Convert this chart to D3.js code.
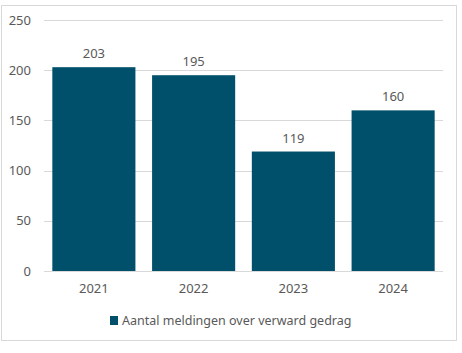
<!DOCTYPE html>
<meta charset="utf-8">
<style>
  body { margin: 0; background: #fff; }
  text { font-family: "Noto Sans", "Open Sans", sans-serif; fill: #595959; }
</style>
<script src="https://d3js.org/d3.v7.min.js"></script>
<div id="chart"></div>
<script>
// data
var years = ["2021", "2022", "2023", "2024"];
var meldingen = [203, 195, 119, 160];
var yTicks = [0, 50, 100, 150, 200, 250];
var seriesName = "Aantal meldingen over verward gedrag";

var W = 462, H = 353;
var margin = {top: 20, right: 19, bottom: 82, left: 44};
var width = W - margin.left - margin.right,
    height = H - margin.top - margin.bottom;

var svg = d3.select("#chart").append("svg")
    .attr("width", W)
    .attr("height", H);

// outer frame
svg.append("rect")
    .attr("x", 1.5).attr("y", 5.5)
    .attr("width", 455).attr("height", 335)
    .attr("fill", "none")
    .attr("stroke", "#d9d9d9");

var g = svg.append("g")
    .attr("transform", "translate(" + margin.left + "," + margin.top + ")");

var x = d3.scaleBand()
    .domain(years)
    .range([0, width])
    .paddingInner(0.167)
    .paddingOuter(0.0835);

var y = d3.scaleLinear()
    .domain([0, 250])
    .range([height, 0]);

// gridlines
g.selectAll("line.grid")
    .data(yTicks)
    .enter().append("line")
    .attr("class", "grid")
    .attr("x1", 0).attr("x2", width)
    .attr("y1", function(d) { return Math.round(y(d)) + 0.5; })
    .attr("y2", function(d) { return Math.round(y(d)) + 0.5; })
    .attr("stroke", "#d9d9d9")
    .attr("stroke-width", 1);

// y axis labels
var yAxis = g.append("g")
    .call(d3.axisLeft(y).tickValues(yTicks).tickSize(0).tickPadding(13));
yAxis.select(".domain").remove();
yAxis.selectAll("text")
    .style("font-size", "13px")
    .style("font-family", "'Noto Sans', sans-serif")
    .attr("fill", "#595959");

// bars
g.selectAll("rect.bar")
    .data(meldingen)
    .enter().append("rect")
    .attr("class", "bar")
    .attr("x", function(d, i) { return x(years[i]); })
    .attr("y", function(d) { return y(d); })
    .attr("width", x.bandwidth())
    .attr("height", function(d) { return height - y(d); })
    .attr("fill", "#00506b");

// value labels
g.selectAll("text.val")
    .data(meldingen)
    .enter().append("text")
    .attr("class", "val")
    .attr("x", function(d, i) { return x(years[i]) + x.bandwidth() / 2; })
    .attr("y", function(d) { return y(d) - 9; })
    .attr("text-anchor", "middle")
    .style("font-size", "13px")
    .attr("fill", "#404040")
    .text(function(d) { return d; });

// x axis labels
var xAxis = g.append("g")
    .attr("transform", "translate(0," + height + ")")
    .call(d3.axisBottom(x).tickSize(0).tickPadding(13));
xAxis.select(".domain").remove();
xAxis.selectAll("text")
    .style("font-size", "13px")
    .style("font-family", "'Noto Sans', sans-serif")
    .attr("fill", "#595959");

// legend
var legend = svg.append("g").attr("transform", "translate(110,316)");
legend.append("rect")
    .attr("width", 8).attr("height", 9)
    .attr("fill", "#00506b");
legend.append("text")
    .attr("x", 12).attr("y", 9)
    .style("font-size", "12.5px")
    .text(seriesName);
</script>
